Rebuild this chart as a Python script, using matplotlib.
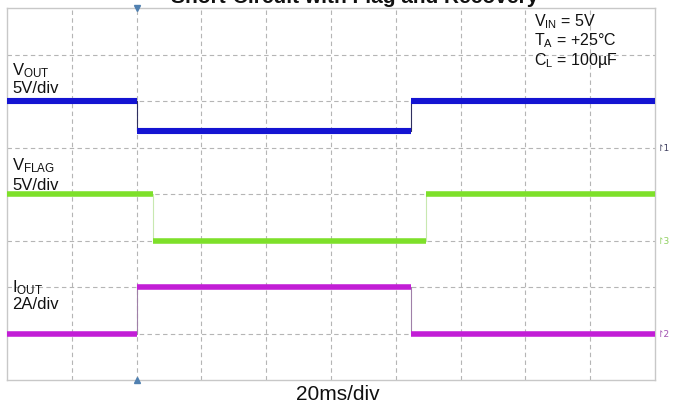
import matplotlib
matplotlib.use("Agg")
import matplotlib.pyplot as plt
import numpy as np

plt.rcParams['font.family'] = ['Liberation Sans', 'DejaVu Sans']
plt.rcParams['mathtext.fontset'] = 'custom'
plt.rcParams['mathtext.rm'] = 'Liberation Sans'
plt.rcParams['mathtext.it'] = 'Liberation Sans'
plt.rcParams['mathtext.default'] = 'rm'

# ---- data (time in ms, 20 ms/div, 10 div) ----
vout_t = [0, 40, 40, 124.8, 124.8, 200]
vout_v = [5.0, 5.0, 1.8, 1.8, 5.0, 5.0]          # 5 V/div
vflag_t = [0, 45, 45, 129.2, 129.2, 200]
vflag_v = [5.0, 5.0, 0.0, 0.0, 5.0, 5.0]         # 5 V/div
iout_t = [0, 40, 40, 124.8, 124.8, 200]
iout_a = [0.0, 0.0, 2.0, 2.0, 0.0, 0.0]          # 2 A/div

title = "Short-Circuit with Flag and Recovery"
conditions = [r"V$_{IN}$ = 5V", r"T$_{A}$ = +25°C", r"C$_{L}$ = 100µF"]
xlabel = "20ms/div"

W, H = 673, 407
fig = plt.figure(figsize=(W/100, H/100), dpi=100)
ax = fig.add_axes([7/W, (H-380)/H, (655-7)/W, (380-8)/H])
ax.set_xlim(0, 200)
ax.set_ylim(0, 8)
ax.set_xticks([])
ax.set_yticks([])
for s in ax.spines.values():
    s.set_color('#c8c8c8')
    s.set_linewidth(1.0)

grid_kw = dict(color='#b5b5b5', lw=0.8, ls=(0, (4, 3)), zorder=1)
for k in range(1, 10):
    ax.axvline(k * 20, **grid_kw)
for k in range(1, 8):
    ax.axhline(k, **grid_kw)

def draw_trace(t, vals, ground, scale, color, edge, lw):
    t = np.asarray(t, float)
    y = ground + np.asarray(vals, float) / scale
    ax.plot(t, y, color=edge, lw=0.8, zorder=2)
    for i in range(0, len(t) - 1, 2):
        ax.plot(t[i:i+2], y[i:i+2], color=color, lw=lw, solid_capstyle='butt', zorder=3)

draw_trace(vout_t, vout_v, 5, 5.0, '#1414d2', '#303060', 4.4)
draw_trace(vflag_t, vflag_v, 3, 5.0, '#7ee02a', '#c8e8b0', 4.0)
draw_trace(iout_t, iout_a, 1, 2.0, '#c21ed6', '#a080a8', 4.0)

# channel labels
lab_kw = dict(transform=fig.transFigure, fontsize=12, color='#111111')
fig.text(12/W, 1 - 75/H, r"V$_{OUT}$", **lab_kw)
fig.text(12/W, 1 - 93/H, "5V/div", **lab_kw)
fig.text(12/W, 1 - 170/H, r"V$_{FLAG}$", **lab_kw)
fig.text(12/W, 1 - 190/H, "5V/div", **lab_kw)
fig.text(12/W, 1 - 292/H, r"I$_{OUT}$", **lab_kw)
fig.text(12/W, 1 - 309/H, "2A/div", **lab_kw)

cond_kw = dict(transform=fig.transFigure, fontsize=11.5, color='#111111')
for i, c in enumerate(conditions):
    fig.text(534/W, 1 - (26 + 19.5*i)/H, c, **cond_kw)

fig.text(338/W, 1 - 400/H, xlabel, ha='center', fontsize=15, color='#111111')

# title partially cut at top
fig.text(355/W, 1 - 3/H, title, ha='center', va='baseline', fontsize=15,
         fontweight='bold', color='#111111')

# ground markers on right
for yg, lab, col in [(5, "1", '#404060'), (3, "3", '#90d060'), (1, "2", '#a050b0')]:
    ax.text(1.003, yg / 8 - 0.004, "\u21BE" + lab, transform=ax.transAxes, fontsize=6.5,
            color=col, va='center', ha='left', clip_on=False,
            family=['DejaVu Sans'])

# trigger markers
ax.plot([40], [8], marker='v', ms=4.5, color='#5080b0', clip_on=False, zorder=5)
ax.plot([40], [0], marker='^', ms=4.5, color='#5080b0', clip_on=False, zorder=5)

fig.savefig("out.png", dpi=100)
